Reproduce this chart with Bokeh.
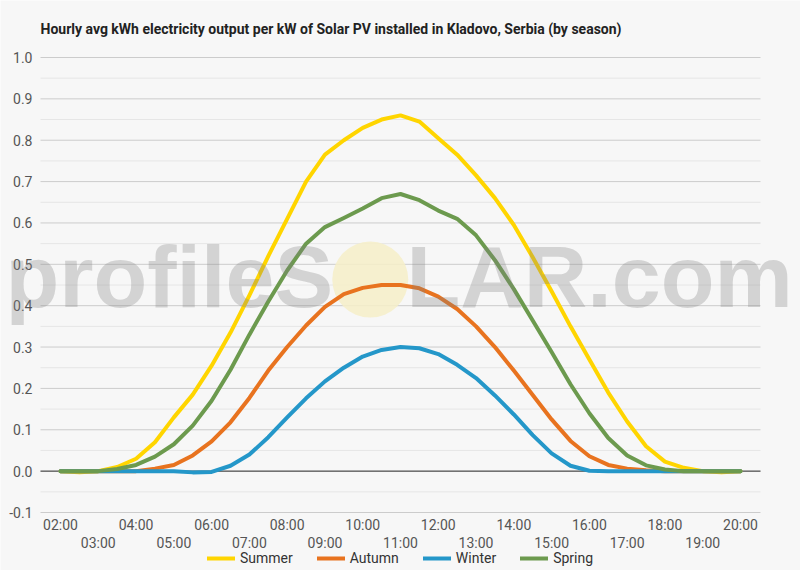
from bokeh.plotting import figure
from bokeh.models import (Range1d, FixedTicker, PrintfTickFormatter, LinearAxis, Label,
                          Legend, LegendItem)
from bokeh.embed import file_html
from bokeh.resources import INLINE

# hours of the day shown on the axis
hours = list(range(2, 21))
hour_labels = ["%02d:00" % h for h in hours]

# readings every half hour, 02:00 .. 20:00
times = [2 + 0.5 * i for i in range(37)]

summer = [0.0, -0.003, 0.0, 0.01, 0.03, 0.07, 0.13, 0.185, 0.255, 0.335, 0.425, 0.52,
          0.61, 0.70, 0.765, 0.80, 0.83, 0.85, 0.86, 0.845, 0.805, 0.765, 0.715, 0.66,
          0.595, 0.517, 0.435, 0.35, 0.27, 0.19, 0.12, 0.06, 0.023, 0.008, 0.0, -0.003, 0.0]
autumn = [0.0, 0.0, 0.0, 0.0, 0.0, 0.006, 0.015, 0.038, 0.072, 0.118, 0.177, 0.243,
          0.30, 0.352, 0.397, 0.428, 0.443, 0.45, 0.45, 0.442, 0.422, 0.392, 0.35, 0.30,
          0.243, 0.184, 0.125, 0.073, 0.036, 0.015, 0.006, 0.002, 0.0, 0.0, 0.0, 0.0, 0.0]
winter = [0.0, 0.0, 0.0, 0.0, 0.0, 0.0, 0.0, -0.003, -0.002, 0.013, 0.04, 0.082,
          0.13, 0.176, 0.217, 0.25, 0.277, 0.293, 0.30, 0.297, 0.283, 0.257, 0.225, 0.183,
          0.137, 0.087, 0.043, 0.013, 0.001, 0.0, 0.0, 0.0, 0.0, 0.0, 0.0, 0.0, 0.0]
spring = [0.0, 0.0, 0.0, 0.005, 0.015, 0.035, 0.065, 0.11, 0.17, 0.245, 0.33, 0.41,
          0.485, 0.55, 0.59, 0.612, 0.635, 0.66, 0.67, 0.655, 0.63, 0.61, 0.57, 0.51,
          0.44, 0.364, 0.288, 0.21, 0.14, 0.08, 0.038, 0.014, 0.004, 0.0, 0.0, 0.0, 0.0]

seasons = ["Summer", "Autumn", "Winter", "Spring"]
colors = ["#FFD500", "#E8731F", "#2497C9", "#6C9A4E"]

y_ticks = [-0.1, 0.0, 0.1, 0.2, 0.3, 0.4, 0.5, 0.6, 0.7, 0.8, 0.9, 1.0]
y_minor = [-0.05, 0.05, 0.15, 0.25, 0.35, 0.45, 0.55, 0.65, 0.75, 0.85, 0.95]

FONT = "Roboto"
BG = "#f7f7f7"
W, H = 800, 570

# plot area in data units; the frame covers the whole canvas so that the
# watermark, axes and legend are drawn inside it (nothing gets clipped)
X_LO, X_HI = 1.47, 20.53
Y_LO, Y_HI = -0.1, 1.0
PX_X = 720 / (X_HI - X_LO)
PX_Y = 455 / (Y_HI - Y_LO)
x_range = Range1d(X_LO - 40 / PX_X, X_HI + 40 / PX_X)
y_range = Range1d(Y_LO - 58 / PX_Y, Y_HI + 57 / PX_Y)

p = figure(width=W, height=H, output_backend="svg", toolbar_location=None,
           x_range=x_range, y_range=y_range, min_border=0,
           min_border_left=0, min_border_right=0, min_border_top=0, min_border_bottom=0,
           background_fill_color=BG, border_fill_color=BG, outline_line_color=None)

p.xgrid.grid_line_color = None
p.ygrid.grid_line_color = None

# horizontal grid, only over the plot area
p.segment(x0=[X_LO] * len(y_minor), x1=[X_HI] * len(y_minor), y0=y_minor, y1=y_minor,
          line_color="#e6e6e6", line_width=1)
p.segment(x0=[X_LO] * len(y_ticks), x1=[X_HI] * len(y_ticks), y0=y_ticks, y1=y_ticks,
          line_color="#cccccc", line_width=1)
p.segment(x0=[X_LO], x1=[X_HI], y0=[0], y1=[0], line_color="#333333", line_width=1)

# y axis pinned to the left edge of the plot area
p.yaxis.fixed_location = X_LO
p.yaxis.ticker = FixedTicker(ticks=y_ticks)
p.yaxis.formatter = PrintfTickFormatter(format="%.1f")
p.yaxis.axis_line_color = None
p.yaxis.major_tick_line_color = None
p.yaxis.minor_tick_line_color = None
p.yaxis.major_tick_out = 0
p.yaxis.major_tick_in = 0
p.yaxis.major_label_standoff = 8
p.yaxis.major_label_text_font = FONT
p.yaxis.major_label_text_font_size = "14px"
p.yaxis.major_label_text_color = "#555555"

# x axis: even hours on the first row, odd hours on a second row
overrides = {h: lab for h, lab in zip(hours, hour_labels)}
even = [h for h in hours if h % 2 == 0]
odd = [h for h in hours if h % 2 == 1]

p.xaxis.ticker = FixedTicker(ticks=even)
ax2 = LinearAxis(ticker=FixedTicker(ticks=odd))
p.add_layout(ax2, "below")
for ax in p.xaxis:
    ax.fixed_location = Y_LO
    ax.major_label_overrides = overrides
    ax.axis_line_color = None
    ax.major_tick_line_color = None
    ax.minor_tick_line_color = None
    ax.major_tick_out = 0
    ax.major_tick_in = 0
    ax.major_label_text_font = FONT
    ax.major_label_text_font_size = "14px"
    ax.major_label_text_color = "#555555"
p.xaxis[0].major_label_standoff = 4
ax2.major_label_standoff = 22

# title
p.add_layout(Label(x=40, y=H - 28, x_units="screen", y_units="screen",
                   text="Hourly avg kWh electricity output per kW of Solar PV installed in Kladovo, Serbia (by season)",
                   text_font=FONT, text_font_size="14px", text_font_style="bold",
                   text_color="#222222", text_baseline="middle"))

# watermark
p.scatter(x=[10.2], y=[0.463], size=76, fill_color="#f6eec8", line_color=None, fill_alpha=0.85)
for txt, sx in [("profileS", 5), ("LAR.com", 406)]:
    p.add_layout(Label(x=sx, y=245, x_units="screen", y_units="screen", text=txt,
                       text_font="Liberation Sans", text_font_size="88px", text_font_style="bold",
                       text_baseline="bottom",
                       text_color="#808080", text_alpha=0.3, level="overlay"))

items = []
for name, vals, col in zip(seasons, [summer, autumn, winter, spring], colors):
    r = p.line(times, vals, line_color=col, line_width=4, line_join="round", line_cap="round")
    items.append(LegendItem(label=name, renderers=[r]))

legend = Legend(items=items, location=(207, 3), orientation="horizontal",
                background_fill_alpha=0, border_line_alpha=0, padding=0, margin=0,
                spacing=24, glyph_width=28, glyph_height=18, label_standoff=5,
                label_text_font=FONT, label_text_font_size="14px", label_text_color="#333333")
p.add_layout(legend, "center")

open("out.html", "w").write(file_html(p, INLINE))
